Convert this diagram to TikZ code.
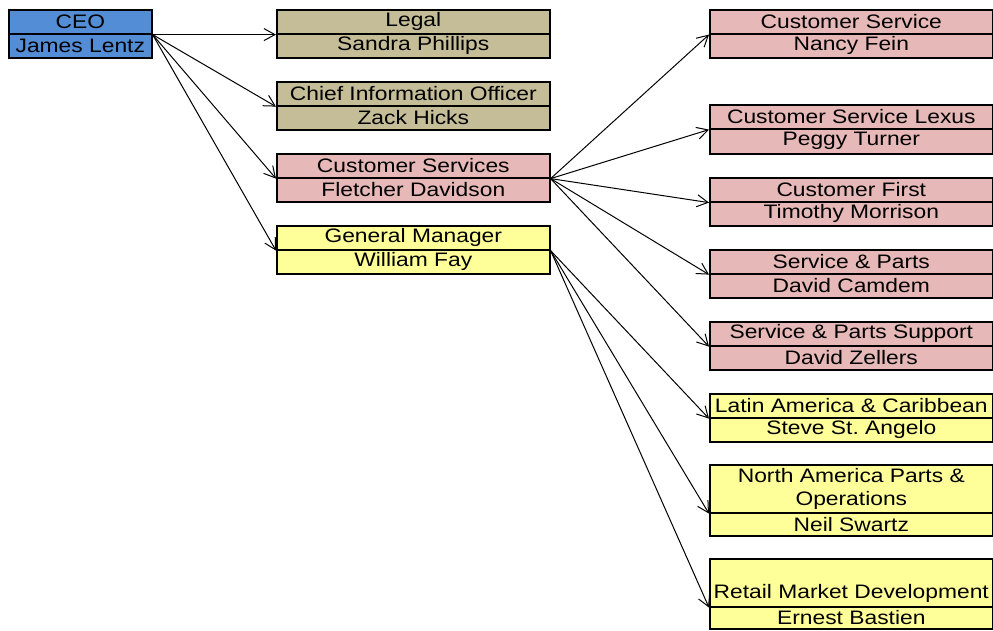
\documentclass[tikz,border=0pt]{standalone}
\usepackage{fontspec}
\setmainfont{Liberation Sans}[FakeStretch=1.17]
\usetikzlibrary{arrows.meta}
\definecolor{ceoblue}{RGB}{83,141,213}
\definecolor{unittan}{RGB}{196,189,151}
\definecolor{unitrose}{RGB}{230,184,183}
\definecolor{unitpale}{RGB}{255,255,153}
\frenchspacing

\tikzset{
  cell/.style={draw=black, line width=1.6pt, inner sep=0pt, anchor=north west,
    align=center, font=\fontsize{19.5}{23}\selectfont},
  link/.style={line width=1pt, -{Straight Barb[length=11pt,width=12pt]}},
}
% #1 name, #2 left, #3 top, #4 divider, #5 bottom, #6 width, #7 fill, #8 title, #9 person
\newcommand\orgunit[9]{%
  \node[cell, fill=#7, minimum width=#6pt, minimum height={(#4-#3)*1pt}]
    (#1-t) at (#2pt,-#3pt) {#8};
  \node[cell, fill=#7, minimum width=#6pt, minimum height={(#5-#4)*1pt}]
    (#1-b) at (#2pt,-#4pt) {#9};
}

\begin{document}
\begin{tikzpicture}
\useasboundingbox (0,0) rectangle (993pt,-630pt);

\orgunit{ceo}{8}{9}{33}{57}{143}{ceoblue}{CEO}{James Lentz}

\orgunit{legal}{276}{9}{33}{57}{273}{unittan}{Legal}{Sandra Phillips}
\orgunit{cio}{276}{81}{105}{129}{273}{unittan}{Chief Information Officer}{Zack Hicks}
\orgunit{cs}{276}{153}{177}{201}{273}{unitrose}{Customer Services}{Fletcher Davidson}
\orgunit{gm}{276}{225}{249}{273}{273}{unitpale}{General Manager}{William Fay}

\orgunit{csv}{709}{9}{33}{57}{283}{unitrose}{Customer Service}{Nancy Fein}
\orgunit{lex}{709}{104}{128}{153}{283}{unitrose}{Customer Service Lexus}{Peggy Turner}
\orgunit{first}{709}{177}{201}{225}{283}{unitrose}{Customer First}{Timothy Morrison}
\orgunit{sp}{709}{249}{273}{297}{283}{unitrose}{Service \& Parts}{David Camdem}
\orgunit{sps}{709}{321}{345}{369}{283}{unitrose}{Service \& Parts Support}{David Zellers}
\orgunit{latin}{709}{393}{417}{441}{283}{unitpale}{Latin America \& Caribbean}{Steve St. Angelo}
\orgunit{na}{709}{464}{512}{535}{283}{unitpale}{North America Parts \&\\Operations}{Neil Swartz}
\orgunit{retail}{709}{558}{606}{628}{283}{unitpale}{\mbox{}\\[12pt]Retail Market Development}{Ernest Bastien}

% CEO reports
\foreach \u in {legal,cio,cs,gm}
  \draw[link] (ceo-t.south east) -- (\u-t.south west);
% Customer Services reports
\foreach \u in {csv,lex,first,sp,sps}
  \draw[link] (cs-t.south east) -- (\u-t.south west);
% General Manager reports
\foreach \u in {latin,na,retail}
  \draw[link] (gm-t.south east) -- (\u-t.south west);
\end{tikzpicture}
\end{document}
